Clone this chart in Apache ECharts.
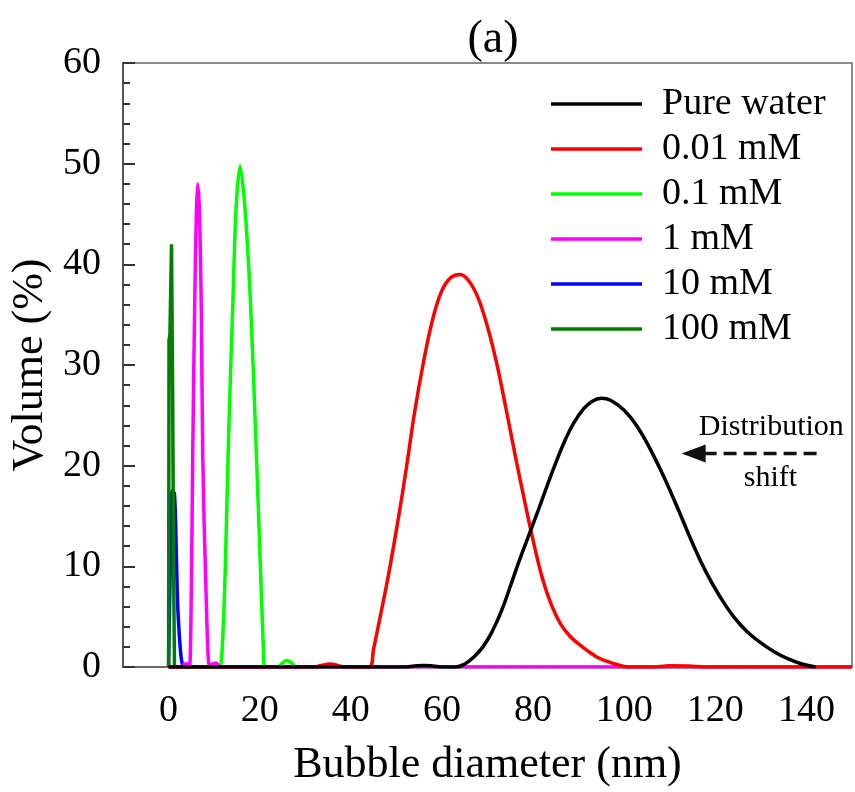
<!DOCTYPE html>
<html>
<head>
<meta charset="utf-8">
<script src="https://cdn.jsdelivr.net/npm/echarts@6/dist/echarts.min.js"></script>
<style>
  html, body { margin: 0; padding: 0; background: #fff; }
  #chart { width: 855px; height: 792px; }
</style>
</head>
<body>
<div id="chart"></div>
<script>
// [diameter nm, volume %]
const pureWater = [[0,0],[52,0],[54,0.1],[56,0.15],[58,0.1],[60,0],[63,0],[65,0.3],[67,1.0],[69,2.0],[71,3.5],[73,5.5],[75,8.0],[77,10.6],[79,13.0],[81,15.4],[83,17.9],[85,20.3],[87,22.5],[89,24.3],[91,25.6],[93,26.4],[95,26.7],[97,26.5],[100,25.5],[103,23.8],[106,21.4],[109,18.6],[112,15.5],[115,12.3],[118,9.4],[121,7.0],[124,5.0],[127,3.5],[130,2.4],[133,1.5],[136,0.8],[139,0.3],[142,0]];
const mM001 = [[0,0],[32,0],[33.5,0.15],[35.5,0.3],[37.5,0.1],[39,0],[44,0],[45,1.8],[46,4.0],[48,8.5],[50,13.6],[52,19.2],[54,25.3],[56,30.4],[58,34.6],[60,37.4],[62,38.7],[64,39.0],[66,38.3],[68,36.6],[70,33.8],[72,30.2],[74,25.8],[76,21.2],[78,16.8],[80,12.6],[82,8.9],[84,6.2],[86,4.3],[88,3.1],[90,2.3],[92,1.6],[94,1.0],[96,0.6],[98,0.3],[101,0],[106,0],[110,0.12],[114,0.1],[118,0],[150,0]];
const mM01 = [[0,0],[8.5,0],[9.5,0.3],[10.5,0.3],[11.3,0],[12,4],[12.5,10.7],[13.2,23.3],[14.1,36],[14.8,45.4],[15.7,49.8],[16.8,45.4],[18,36],[19.1,23.3],[20.1,10.7],[20.8,2],[21.2,0],[24,0],[25,0.4],[26,0.65],[27,0.4],[28,0],[150,0]];
const mM1 = [[0,0],[3,0],[3.5,0.3],[4.2,0.3],[4.6,0],[5.0,7.9],[5.3,21],[5.7,35],[6.1,45],[6.4,48],[6.8,45],[7.2,35],[7.5,21],[8.2,7.9],[9.0,0],[9.7,0.3],[10.5,0.4],[11.2,0],[150,0]];
const mM10 = [[0,0],[0.3,8],[0.8,17.5],[1.3,17.2],[1.7,11.3],[2.0,6.2],[2.4,2.9],[2.8,0.8],[3.2,0.1],[3.6,0],[20,0]];
const mM100 = [[0,0],[0.1,32.5],[0.3,33],[0.65,42],[0.9,27],[1.1,10],[1.3,0],[10,0]];

const names = ["Pure water", "0.01 mM", "0.1 mM", "1 mM", "10 mM", "100 mM"];
const colors = ["#000000", "#ff0000", "#00ff00", "#ff00ff", "#0000ff", "#008000"];
const xTicks = [0, 20, 40, 60, 80, 100, 120, 140];

const serif = "'Liberation Serif', 'Times New Roman', serif";

function makeLine(i, data, smooth, z) {
  return {
    name: names[i],
    type: "line",
    data: data,
    smooth: smooth,
    symbol: "none",
    z: z,
    lineStyle: { color: colors[i], width: 3.5 },
    itemStyle: { color: colors[i] },
  };
}

const chart = echarts.init(document.getElementById("chart"));
chart.setOption({
  animation: false,
  title: {
    text: "(a)",
    left: 488,
    top: 12,
    textAlign: "center",
    textStyle: { fontFamily: serif, fontSize: 46, fontWeight: "normal", color: "#000" },
  },
  grid: {
    left: 123, top: 63, right: 2, bottom: 120,
    show: true, borderColor: "#666", borderWidth: 1.5,
  },
  legend: {
    orient: "vertical",
    left: 551,
    top: 85,
    padding: 0,
    icon: "rect",
    itemWidth: 91,
    itemHeight: 3.5,
    itemGap: 7,
    data: names,
    textStyle: { fontFamily: serif, fontSize: 38, color: "#000", lineHeight: 38, padding: [0, 0, 0, 15] },
  },
  xAxis: {
    type: "value",
    min: -10,
    max: 150,
    interval: 10,
    name: "Bubble diameter (nm)",
    nameLocation: "middle",
    nameGap: 76,
    nameTextStyle: { fontFamily: serif, fontSize: 44, color: "#000" },
    axisLine: { show: true, onZero: false, lineStyle: { color: "#666", width: 1.5 } },
    axisTick: { show: false },
    splitLine: { show: false },
    axisLabel: {
      margin: 25,
      fontFamily: serif, fontSize: 38, color: "#000",
      formatter: (v) => (xTicks.includes(v) ? String(v) : ""),
    },
  },
  yAxis: {
    type: "value",
    min: 0,
    max: 60,
    interval: 10,
    name: "Volume (%)",
    nameLocation: "middle",
    nameGap: 66,
    nameTextStyle: { fontFamily: serif, fontSize: 44, color: "#000" },
    axisLine: { show: true, onZero: false, lineStyle: { color: "#555", width: 2 } },
    axisTick: { show: true, inside: true, length: 12, lineStyle: { color: "#333", width: 2 } },
    minorTick: { show: true, splitNumber: 5, length: 7, lineStyle: { color: "#333", width: 2 } },
    splitLine: { show: false },
    axisLabel: { margin: 22, fontFamily: serif, fontSize: 38, color: "#000" },
  },
  series: [
    makeLine(0, pureWater, 0.45, 8),
    makeLine(1, mM001, 0.4, 7),
    makeLine(2, mM01, 0.3, 3),
    makeLine(3, mM1, 0.3, 6),
    makeLine(4, mM10, 0.3, 4),
    makeLine(5, mM100, false, 5),
  ],
});

// "Distribution shift" annotation placed in data space
const head = chart.convertToPixel({ gridIndex: 0 }, [112.6, 21.2]);
const tail = chart.convertToPixel({ gridIndex: 0 }, [143, 21.2]);
const txt1 = chart.convertToPixel({ gridIndex: 0 }, [132.3, 23.8]);
const txt2 = chart.convertToPixel({ gridIndex: 0 }, [132.1, 18.8]);
chart.setOption({
  graphic: [
    {
      type: "line",
      shape: { x1: head[0] + 22, y1: head[1], x2: tail[0], y2: tail[1] },
      style: { stroke: "#111", lineWidth: 3.5, lineDash: [13, 7] },
    },
    {
      type: "polygon",
      shape: { points: [[head[0], head[1]], [head[0] + 24, head[1] - 9], [head[0] + 24, head[1] + 9]] },
      style: { fill: "#111" },
    },
    {
      type: "text",
      x: txt1[0], y: txt1[1],
      style: { text: "Distribution", font: "30px " + serif, fill: "#000", textAlign: "center", textVerticalAlign: "middle" },
    },
    {
      type: "text",
      x: txt2[0], y: txt2[1],
      style: { text: "shift", font: "30px " + serif, fill: "#000", textAlign: "center", textVerticalAlign: "middle" },
    },
  ],
});
</script>
</body>
</html>
